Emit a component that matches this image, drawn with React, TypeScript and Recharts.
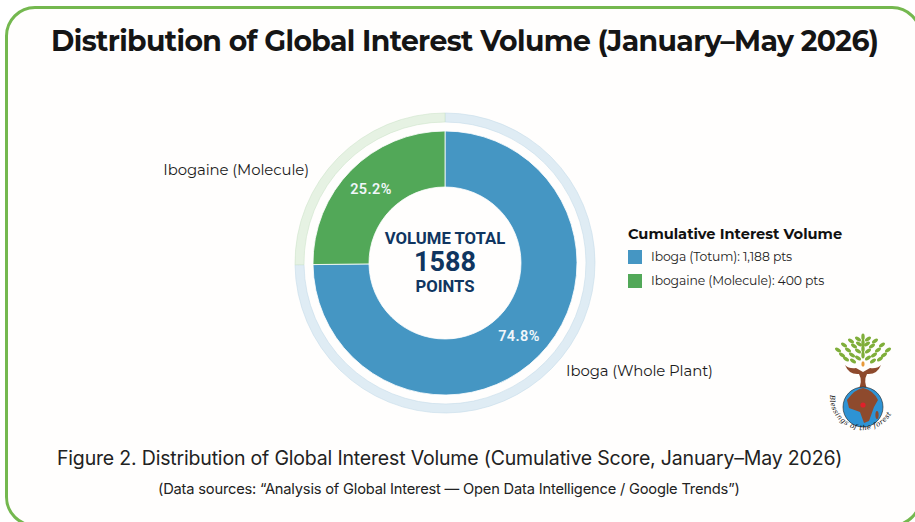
import React from "react";
import { PieChart, Pie, Cell, Legend } from "recharts";

const segmentNames = ["Iboga (Whole Plant)", "Ibogaine (Molecule)"];
const legendNames = ["Iboga (Totum): 1,188 pts", "Ibogaine (Molecule): 400 pts"];
const points = [1188, 400];
const percentLabels = ["74.8%", "25.2%"];
const solidColors = ["#4596C3", "#52A858"];
const paleColors = ["#DFECF4", "#E6F2E3"];
const paleEdges = ["#C6DCEA", "#CFE4CB"];
const tableData = segmentNames.map((name, i) => ({ name, value: points[i], pct: percentLabels[i] }));

const CX = 445;
const CY = 263;
const RAD = Math.PI / 180;
const DISPLAY = "Montserrat, Inter, 'Open Sans', sans-serif";

const renderPct = (p: any) => {
  const r = (p.innerRadius + p.outerRadius) / 2;
  const x = p.cx + r * Math.cos(-p.midAngle * RAD);
  const y = p.cy + r * Math.sin(-p.midAngle * RAD);
  return (
    <text x={x} y={y} fill="#F0F6FA" fontFamily="Roboto" fontWeight={600} fontSize={14.5} letterSpacing={0.4} textAnchor="middle" dominantBaseline="central">
      {p.payload.pct}
    </text>
  );
};

const LegendBox = () => (
  <div style={{ fontFamily: DISPLAY, color: "#222" }}>
    <div style={{ fontWeight: 700, fontSize: 14.6, color: "#111", lineHeight: "18px", whiteSpace: "nowrap" }}>Cumulative Interest Volume</div>
    {legendNames.map((n, i) => (
      <div key={n} style={{ display: "flex", alignItems: "center", marginTop: i === 0 ? 6 : 8, whiteSpace: "nowrap", fontSize: 12.4, lineHeight: "16px", letterSpacing: -0.1 }}>
        <span style={{ width: 14, height: 14, background: solidColors[i], display: "inline-block", marginRight: 9 }} />
        {n}
      </div>
    ))}
  </div>
);

const leaves: [number, number][] = [
  [-25,-19],[-19,-24],[-12,-28],[-5,-30],[0,-32],[5,-30],[12,-28],[19,-24],[25,-19],
  [-21,-14],[-15,-19],[-9,-23],[-4,-25],[0,-26],[4,-25],[9,-23],[15,-19],[21,-14],
  [-17,-10],[-11,-14],[-5,-18],[0,-20],[5,-18],[11,-14],[17,-10],
  [-10,-8],[-5,-11],[0,-14],[5,-11],[10,-8],
];

const Logo = () => (
  <svg width={100} height={120} style={{ position: "absolute", left: 813, top: 324 }} viewBox="-50 -45 100 120">
    {leaves.map(([x, y], i) => (
      <ellipse key={i} cx={x} cy={y} rx={3.4} ry={1.7} fill="#7FAE3A" transform={`rotate(${x < 0 ? 35 : x > 0 ? -35 : 90} ${x} ${y})`} />
    ))}
    <ellipse cx={0} cy={-5} rx={1.6} ry={2.8} fill="#E89A3A" />
    <path d="M-18 -4 Q-14 6 -4 5 Q0 12 -5 22 L5 22 Q0 12 4 5 Q14 6 18 -4 Q14 0 7 -1 L0 3 L-7 -1 Q-14 0 -18 -4Z" fill="#8E4A2D" />
    <circle cx={0} cy={38} r={20} fill="#2E93D4" stroke="#222" strokeWidth={0.6} />
    <path d="M-16 31 Q-8 20 0 19 Q10 21 15 31 L11 38 L6 52 L1 54 L-3 43 L-14 39Z" fill="#8E4A2D" />
    <ellipse cx={14} cy={46} rx={1.6} ry={4} fill="#8E4A2D" />
    <circle cx={0} cy={36} r={2.6} fill="#E0202A" />
    <path id="logoArc" d="M-33 26 A 33 33 0 1 0 33 30" fill="none" />
    <text fontFamily="DejaVu Serif" fontSize={7} fontStyle="italic" fill="#111" letterSpacing={0.4}>
      <textPath href="#logoArc">Blessings of the forest</textPath>
    </text>
  </svg>
);

export default function App() {
  return (
    <div style={{ position: "absolute", left: 0, top: 0, width: 915, height: 522, overflow: "hidden", background: "#FFFFFF" }}>
      <div style={{ position: "absolute", left: 5, top: 6, width: 917, height: 521, border: "3px solid #74B84F", borderRadius: 30, boxSizing: "border-box", background: "#FFFEFD" }} />
      <div style={{ position: "absolute", left: 51, top: 22, fontFamily: DISPLAY, fontWeight: 700, fontSize: 28.3, letterSpacing: -0.62, lineHeight: "38px", color: "#151515", whiteSpace: "nowrap" }}>
        Distribution of Global Interest Volume (January–May 2026)
      </div>
      <div style={{ position: "absolute", left: 0, top: 0 }}>
        <PieChart width={915} height={522} margin={{ top: 0, right: 0, bottom: 0, left: 0 }}>
          <Pie data={tableData} dataKey="value" nameKey="name" cx={CX} cy={CY} innerRadius={141} outerRadius={150} startAngle={90} endAngle={-270} strokeWidth={0.6} isAnimationActive={false} legendType="none">
            {tableData.map((d, i) => <Cell key={d.name} fill={paleColors[i]} stroke={paleEdges[i]} />)}
          </Pie>
          <Pie data={tableData} dataKey="value" nameKey="name" cx={CX} cy={CY} innerRadius={76} outerRadius={132} startAngle={90} endAngle={-270} stroke="#FFFFFF" strokeWidth={0.8} label={renderPct} labelLine={false} isAnimationActive={false}>
            {tableData.map((d, i) => <Cell key={d.name} fill={solidColors[i]} />)}
          </Pie>
          <Legend content={<LegendBox />} wrapperStyle={{ position: "absolute", left: 628, top: 225, width: 240, bottom: "auto" }} />
          <text x={309} y={170} textAnchor="end" dominantBaseline="central" fontFamily={DISPLAY} fontSize={14.9} letterSpacing={-0.1} fill="#1c1c1c">{segmentNames[1]}</text>
          <text x={566} y={371} textAnchor="start" dominantBaseline="central" fontFamily={DISPLAY} fontSize={14.9} letterSpacing={-0.1} fill="#1c1c1c">{segmentNames[0]}</text>
          <g fontFamily="Roboto" fontWeight={700} fill="#0F3560" textAnchor="middle">
            <text x={CX} y={238} dominantBaseline="central" fontSize={16.7}>VOLUME TOTAL</text>
            <text x={CX} y={262} dominantBaseline="central" fontSize={27}>1588</text>
            <text x={CX} y={286} dominantBaseline="central" fontSize={16.7}>POINTS</text>
          </g>
        </PieChart>
      </div>
      <Logo />
      <div style={{ position: "absolute", left: 57, top: 445, fontFamily: "Inter", fontWeight: 400, fontSize: 19.5, letterSpacing: -0.18, lineHeight: "26px", color: "#222", whiteSpace: "nowrap" }}>
        Figure 2. Distribution of Global Interest Volume (Cumulative Score, January–May 2026)
      </div>
      <div style={{ position: "absolute", left: 158, top: 480, fontFamily: "Inter", fontWeight: 400, fontSize: 14.7, letterSpacing: -0.2, lineHeight: "18px", color: "#222", whiteSpace: "nowrap" }}>
        (Data sources: “Analysis of Global Interest — Open Data Intelligence / Google Trends”)
      </div>
    </div>
  );
}
